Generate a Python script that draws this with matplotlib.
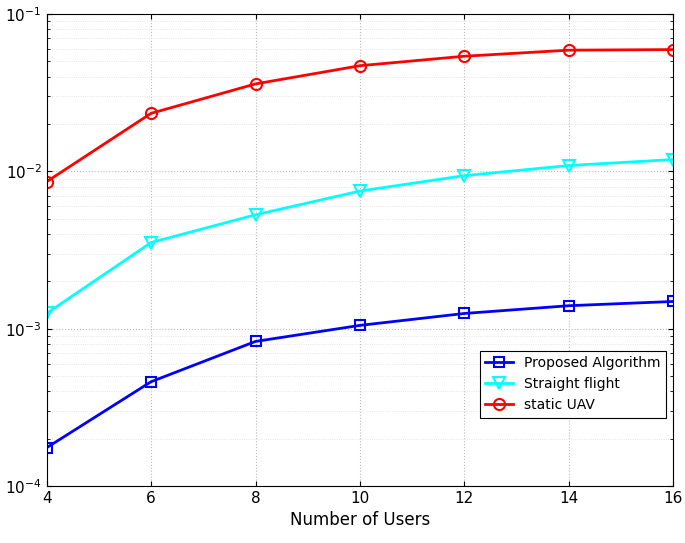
import matplotlib
matplotlib.use("Agg")
import matplotlib.pyplot as plt

users = [4, 6, 8, 10, 12, 14, 16]
proposed = [0.000175, 0.00046, 0.00083, 0.00105, 0.00125, 0.0014, 0.00149]
straight = [0.00125, 0.00353, 0.0053, 0.0075, 0.0094, 0.0109, 0.0119]
static = [0.0086, 0.0234, 0.036, 0.047, 0.054, 0.059, 0.0595]
labels = ["Proposed Algorithm", "Straight flight", "static UAV"]

fig = plt.figure(figsize=(6.85, 5.43), dpi=100)
ax = fig.add_axes([0.068, 0.105, 0.915, 0.869])
ax.semilogy(users, proposed, '-s', color='#0000ff', lw=2, ms=7, mfc='none', mew=1.5, label=labels[0])
ax.semilogy(users, straight, '-v', color='#00ffff', lw=2, ms=8, mfc='none', mew=1.5, label=labels[1])
ax.semilogy(users, static, '-o', color='#ff0000', lw=2, ms=8, mfc='none', mew=1.5, label=labels[2])
ax.set_xlim(4, 16)
ax.set_ylim(1e-4, 1e-1)
ax.set_xticks(users)
ax.grid(True, which='major', ls=':', color='#bbbbbb', lw=0.8)
ax.grid(True, which='minor', ls=':', color='#dddddd', lw=0.6)
ax.tick_params(which='both', direction='in', top=True, right=True, labelsize=11)
ax.set_xlabel("Number of Users", fontsize=12)
ax.set_ylabel("Min-Max MSE", fontsize=12, labelpad=0)
leg = ax.legend(loc='lower right', bbox_to_anchor=(1.0, 0.13), fancybox=False, edgecolor='black', fontsize=10, framealpha=1)
leg.get_frame().set_linewidth(0.8)
fig.savefig("out.png", dpi=100)
